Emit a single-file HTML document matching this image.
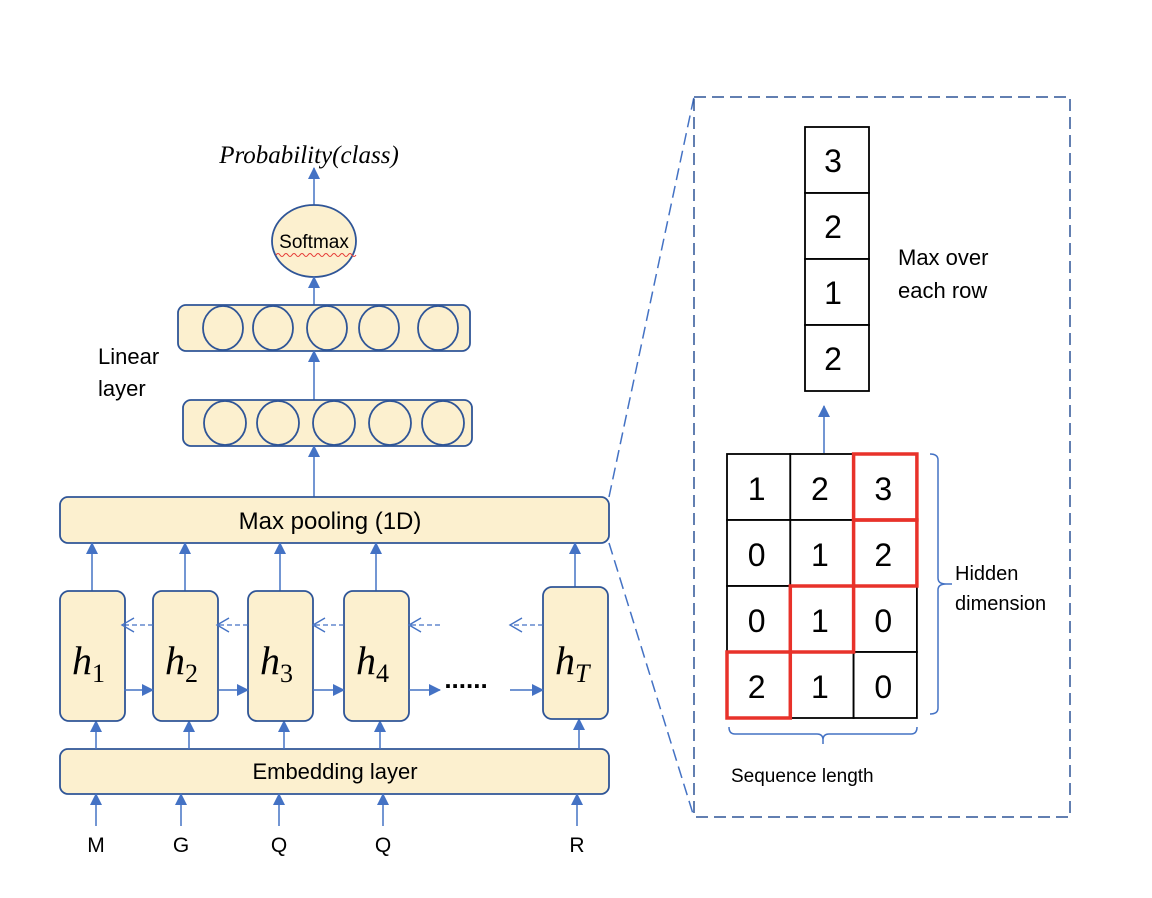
<!DOCTYPE html>
<html><head><meta charset="utf-8"><style>
html,body{margin:0;padding:0;background:#fff;width:1152px;height:898px;overflow:hidden}
svg{display:block;font-family:"Liberation Sans","DejaVu Sans",sans-serif}
</style></head><body>
<svg id="s" width="1152" height="898" viewBox="0 0 1152 898" xmlns="http://www.w3.org/2000/svg">
<defs>
<marker id="ah" markerWidth="12" markerHeight="12" refX="11" refY="6" orient="auto" markerUnits="userSpaceOnUse" viewBox="0 0 12 12">
<path d="M0,0 L12,6 L0,12 z" fill="#4472C4"/></marker>
<marker id="oh" markerWidth="16" markerHeight="16" refX="14" refY="8" orient="auto" markerUnits="userSpaceOnUse" viewBox="0 0 16 16">
<path d="M2,1 L14,8 L2,15" fill="none" stroke="#4472C4" stroke-width="1.4"/></marker>
</defs>
<g id="left" stroke="#2F5597" stroke-width="1.8">
<text x="309" y="163" text-anchor="middle" font-family="Liberation Serif,serif" font-style="italic" font-size="25" stroke="none" fill="#000">Probability(class)</text>
<line x1="314" y1="205" x2="314" y2="168" stroke="#4472C4" stroke-width="1.5" marker-end="url(#ah)"/>
<ellipse cx="314" cy="241" rx="42" ry="36" fill="#FCF0CF"/>
<text x="314" y="248" text-anchor="middle" font-size="19" stroke="none" fill="#000">Softmax</text>
<path d="M276,255 q2,-3 4,0 t4,0 t4,0 t4,0 t4,0 t4,0 t4,0 t4,0 t4,0 t4,0 t4,0 t4,0 t4,0 t4,0 t4,0 t4,0 t4,0 t4,0 t4,0 t4,0" fill="none" stroke="#E53935" stroke-width="1"/>
<line x1="314" y1="305" x2="314" y2="277" stroke="#4472C4" stroke-width="1.5" marker-end="url(#ah)"/>
<rect x="178" y="305" width="292" height="46" rx="8" fill="#FCF0CF"/>
<line x1="314" y1="400" x2="314" y2="351" stroke="#4472C4" stroke-width="1.5" marker-end="url(#ah)"/>
<rect x="183" y="400" width="289" height="46" rx="8" fill="#FCF0CF"/>
<g id="neurons"></g>
<text x="98" y="364" font-size="22" stroke="none" fill="#000">Linear</text>
<text x="98" y="396" font-size="22" stroke="none" fill="#000">layer</text>
<line x1="314" y1="497" x2="314" y2="446" stroke="#4472C4" stroke-width="1.5" marker-end="url(#ah)"/>
<rect x="60" y="497" width="549" height="46" rx="8" fill="#FCF0CF"/>
<text x="330" y="529" text-anchor="middle" font-size="24" stroke="none" fill="#000">Max pooling (1D)</text>
<rect x="60" y="749" width="549" height="45" rx="8" fill="#FCF0CF"/>
<text x="335" y="779" text-anchor="middle" font-size="22" stroke="none" fill="#000">Embedding layer</text>
<g id="hidden"></g>
<text x="466" y="688" text-anchor="middle" font-size="26" stroke="none" fill="#000" font-weight="bold">......</text>
</g>
<g id="right">
<line x1="609" y1="497" x2="694" y2="97" stroke="#4472C4" stroke-width="1.5" stroke-dasharray="12,6"/>
<line x1="609" y1="543" x2="694" y2="817" stroke="#4472C4" stroke-width="1.5" stroke-dasharray="12,6"/>
<rect x="694" y="97" width="376" height="720" fill="none" stroke="#2F5597" stroke-width="1.5" stroke-dasharray="12,6"/>
<g id="vec"></g>
<text x="898" y="265" font-size="22" fill="#000">Max over</text>
<text x="898" y="298" font-size="22" fill="#000">each row</text>
<line x1="824" y1="453" x2="824" y2="406" stroke="#4472C4" stroke-width="1.5" marker-end="url(#ah)"/>
<g id="grid"></g>
<path d="M930,454 q8,0 8,6 v118 q0,6 8,6 h6 h-6 q-8,0 -8,6 v118 q0,6 -8,6" fill="none" stroke="#4472C4" stroke-width="1.5"/>
<text x="955" y="580" font-size="20" fill="#000">Hidden</text>
<text x="955" y="610" font-size="20" fill="#000">dimension</text>
<path d="M729,727 q0,7 6,7 h82 q6,0 6,6 v4 v-4 q0,-6 6,-6 h82 q6,0 6,-7" fill="none" stroke="#4472C4" stroke-width="1.5"/>
<text x="731" y="782" font-size="19" fill="#000">Sequence length</text>
</g>
</svg>
<script>
const ns='http://www.w3.org/2000/svg';
const hiddenLabels=['1','2','3','4','T'];
const tokens=['M','G','Q','Q','R'];
const pooled=[3,2,1,2];
const gridRows=[[1,2,3],[0,1,2],[0,1,0],[2,1,0]];
const layer1Count=5, layer2Count=5;
function mk(tag,attrs,parent){const e=document.createElementNS(ns,tag);for(const k in attrs)e.setAttribute(k,attrs[k]);parent.appendChild(e);return e;}
const ng=document.getElementById('neurons');
const c1=[225,278,334,390,443],c2=[223,273,327,379,438];
for(let i=0;i<layer1Count;i++){const e=mk('ellipse',{cx:c1[i],cy:423,rx:21,ry:22,fill:'none'},ng);

}
for(let i=0;i<layer2Count;i++){const e=mk('ellipse',{cx:c2[i],cy:328,rx:20,ry:22,fill:'none'},ng);

}
const hg=document.getElementById('hidden');
const bx=[60,153,248,344,543], tx=[96,181,279,383,577];
hiddenLabels.forEach((l,i)=>{
 const x=bx[i], top=(i==4?587:591), bot=(i==4?719:721);
 mk('line',{x1:x+32,y1:top,x2:x+32,y2:543,stroke:'#4472C4','stroke-width':1.5,'marker-end':'url(#ah)'},hg);
 mk('line',{x1:x+36,y1:749,x2:x+36,y2:bot,stroke:'#4472C4','stroke-width':1.5,'marker-end':'url(#ah)'},hg);
 const r=mk('rect',{x:x,y:top,width:65,height:bot-top,rx:9,fill:'#FCF0CF'},hg);
 
 
 const t=mk('text',{x:x+12,y:674,'font-family':'Liberation Serif,serif','font-style':'italic','font-size':40,stroke:'none',fill:'#000'},hg);
 t.textContent='h';
 const s=mk('tspan',{'font-size':26,dy:8,'font-style':(l=='T'?'italic':'normal')},t); s.textContent=l;
 mk('line',{x1:tx[i],y1:826,x2:tx[i],y2:794,stroke:'#4472C4','stroke-width':1.5,'marker-end':'url(#ah)'},hg);
 const tk=mk('text',{x:tx[i],y:852,'text-anchor':'middle','font-size':21,stroke:'none',fill:'#000'},hg);
 
 
 tk.textContent=tokens[i];
});
[[124,153],[219,248],[313,344],[409,440],[510,543]].forEach(p=>mk('line',{x1:p[0],y1:690,x2:p[1],y2:690,stroke:'#4472C4','stroke-width':1.5,'marker-end':'url(#ah)'},hg));
[[153,122],[248,217],[344,313],[440,409],[543,510]].forEach(p=>mk('line',{x1:p[0],y1:625,x2:p[1],y2:625,stroke:'#4472C4','stroke-width':1.3,'stroke-dasharray':'5,3','marker-end':'url(#oh)'},hg));
const vg=document.getElementById('vec');
pooled.forEach((v,i)=>{
 const y=127+i*66;
 const r=mk('rect',{x:805,y:y,width:64,height:66,fill:'#fff',stroke:'#000','stroke-width':1.8},vg);
 
 
 const t=mk('text',{x:833,y:y+45,'text-anchor':'middle','font-size':32,fill:'#000'},vg); t.textContent=v;
});
const gg=document.getElementById('grid');
const cw=63.3, rh=66;
gridRows.forEach((row,ri)=>row.forEach((v,ci)=>{
 const x=727+ci*cw, y=454+ri*rh;
 const r=mk('rect',{x:x,y:y,width:cw,height:rh,fill:'#fff',stroke:'#000','stroke-width':1.8},gg);
 
 
 const t=mk('text',{x:x+cw/2-2,y:y+46,'text-anchor':'middle','font-size':32,fill:'#000'},gg); t.textContent=v;
}));
gridRows.forEach((row,ri)=>{
 const m=Math.max(...row); const ci=row.indexOf(m);
 const r=mk('rect',{x:727+ci*cw,y:454+ri*rh,width:cw,height:rh,fill:'none',stroke:'#E8322A','stroke-width':3.5},gg);
 
 
});
</script>
</body></html>
